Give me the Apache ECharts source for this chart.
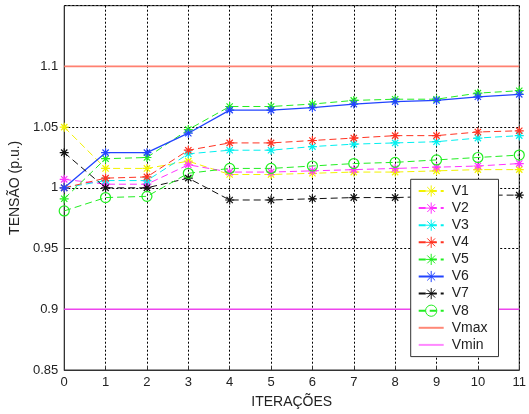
<!DOCTYPE html>
<html>
<head>
<meta charset="utf-8">
<script src="https://cdn.jsdelivr.net/npm/echarts@6/dist/echarts.min.js"></script>
<style>
html,body{margin:0;padding:0;background:#fff;}
#c{width:529px;height:414px;}
</style>
</head>
<body>
<div id="c"></div>
<script>
var iterations = ['0','1','2','3','4','5','6','7','8','9','10','11'];
var V1 = [1.050, 1.016, 1.016, 1.022, 1.011, 1.011, 1.012, 1.013, 1.013, 1.014, 1.015, 1.015];
var V2 = [1.007, 1.003, 1.003, 1.019, 1.013, 1.013, 1.014, 1.015, 1.016, 1.017, 1.018, 1.020];
var V3 = [1.000, 1.006, 1.006, 1.028, 1.031, 1.031, 1.034, 1.036, 1.037, 1.038, 1.041, 1.043];
var V4 = [1.000, 1.008, 1.009, 1.031, 1.037, 1.037, 1.039, 1.041, 1.043, 1.043, 1.046, 1.047];
var V5 = [0.991, 1.024, 1.025, 1.048, 1.067, 1.067, 1.069, 1.072, 1.073, 1.073, 1.078, 1.080];
var V6 = [1.000, 1.029, 1.029, 1.045, 1.064, 1.064, 1.066, 1.069, 1.071, 1.072, 1.075, 1.077];
var V7 = [1.029, 1.000, 1.000, 1.008, 0.990, 0.990, 0.991, 0.992, 0.992, 0.993, 0.994, 0.994];
var V8 = [0.981, 0.992, 0.993, 1.012, 1.016, 1.016, 1.018, 1.020, 1.021, 1.023, 1.025, 1.027];
var Vmax = [1.1, 1.1, 1.1, 1.1, 1.1, 1.1, 1.1, 1.1, 1.1, 1.1, 1.1, 1.1];
var Vmin = [0.9, 0.9, 0.9, 0.9, 0.9, 0.9, 0.9, 0.9, 0.9, 0.9, 0.9, 0.9];
var yTicks = {min: 0.85, max: 1.15, interval: 0.05};

var FONT = "'Liberation Sans', Arial, sans-serif";
var STAR = 'path://M5,0 L5,10 M0,5 L10,5 M1.5,1.5 L8.5,8.5 M1.5,8.5 L8.5,1.5';
var BAR = 'path://M0,0 L25,0 L25,2 L0,2 Z';

function volt(name, data, color, opts) {
  opts = opts || {};
  return {
    name: name, type: 'line', data: data,
    symbol: opts.symbol || STAR,
    symbolSize: opts.size || 9,
    showAllSymbol: true,
    lineStyle: {color: color, width: opts.width || 1, type: opts.solid ? 'solid' : [7, 4]},
    itemStyle: {color: opts.fill || color, borderColor: color, borderWidth: 1.2},
    emphasis: {disabled: true},
    z: opts.z || 3
  };
}

var chart = echarts.init(document.getElementById('c'), null, {renderer: 'canvas'});
chart.setOption({
  animation: false,
  backgroundColor: '#fff',
  textStyle: {fontFamily: FONT},
  grid: {left: 60.7, right: 3.3, top: 5.7, bottom: 40.7, show: true, borderColor: '#333', borderWidth: 1, backgroundColor: 'transparent'},
  legend: {
    orient: 'vertical', left: 410.7, top: 179.3,
    padding: [4.7, 11, 4.7, 7],
    itemWidth: 25, itemHeight: 14, itemGap: 3.1,
    backgroundColor: '#fff', borderColor: '#333', borderWidth: 1,
    textStyle: {fontSize: 14, color: '#222', fontFamily: FONT, padding: [0, 0, 0, 3]},
    itemStyle: {borderWidth: 1},
    data: ['V1','V2','V3','V4','V5','V6','V7','V8',
      {name: 'Vmax', icon: BAR, itemStyle: {color: '#ff8877', borderWidth: 0}},
      {name: 'Vmin', icon: BAR, itemStyle: {color: '#ff88ff', borderWidth: 0}}]
  },
  xAxis: {
    type: 'category', data: iterations, boundaryGap: false,
    name: 'ITERAÇÕES', nameLocation: 'middle', nameGap: 25,
    nameTextStyle: {fontSize: 14, color: '#222', fontFamily: FONT},
    axisLine: {lineStyle: {color: '#333', width: 1}},
    axisTick: {inside: true, length: 4, lineStyle: {color: '#333'}, alignWithLabel: true},
    axisLabel: {interval: 0, fontSize: 13, color: '#222', margin: 6, fontFamily: FONT},
    splitLine: {show: true, lineStyle: {color: '#000', type: [2, 2], width: 1}}
  },
  yAxis: {
    type: 'value', min: yTicks.min, max: yTicks.max, interval: yTicks.interval,
    name: 'TENSÃO (p.u.)', nameLocation: 'middle', nameGap: 37, nameRotate: 90,
    nameTextStyle: {fontSize: 14, color: '#222', fontFamily: FONT},
    axisLine: {show: true, lineStyle: {color: '#333', width: 1}},
    axisTick: {show: true, inside: true, length: 4, lineStyle: {color: '#333'}},
    axisLabel: {fontSize: 13, color: '#222', margin: 6, showMaxLabel: false, fontFamily: FONT},
    splitLine: {show: true, lineStyle: {color: '#000', type: [2, 2], width: 1}}
  },
  series: [
    volt('V1', V1, '#f2f200'),
    volt('V2', V2, '#ff33ff'),
    volt('V3', V3, '#00f0f0'),
    volt('V4', V4, '#ff3322'),
    volt('V5', V5, '#22ee22'),
    volt('V6', V6, '#2244ff', {solid: true, width: 1.3}),
    volt('V7', V7, '#111111'),
    volt('V8', V8, '#22ee22', {symbol: 'circle', size: 10, fill: 'rgba(255,255,255,0)'}),
    {name: 'Vmax', type: 'line', data: Vmax, symbol: 'none', itemStyle: {color: '#ff8877'}, lineStyle: {color: '#ff8070', width: 1.6}, emphasis: {disabled: true}, z: 2},
    {name: 'Vmin', type: 'line', data: Vmin, symbol: 'none', itemStyle: {color: '#ff88ff'}, lineStyle: {color: '#ee44ee', width: 1.6}, emphasis: {disabled: true}, z: 2}
  ]
});
</script>
</body>
</html>
